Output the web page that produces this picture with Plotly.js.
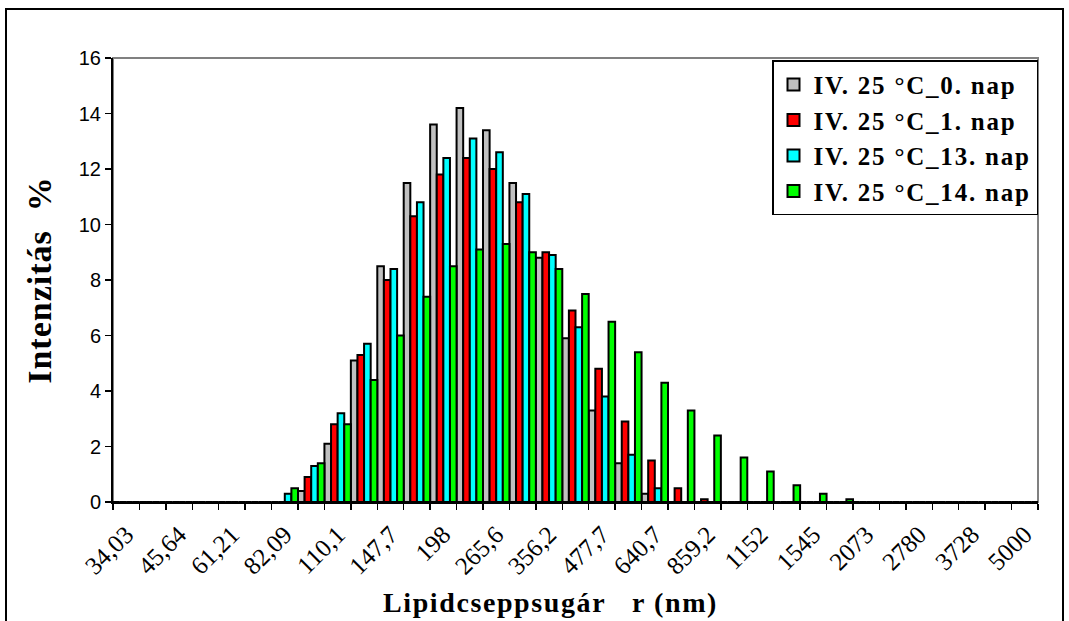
<!DOCTYPE html>
<html><head><meta charset="utf-8">
<script src="https://cdn.plot.ly/plotly-3.0.1.min.js"></script>
<style>
html,body{margin:0;padding:0;background:#fff;}
#chart{width:1069px;height:621px;}
#frame{position:absolute;left:5px;top:8px;width:1055px;height:700px;border:2px solid #000;pointer-events:none;}
.legendtext{letter-spacing:1.8px;}
.ytitle{letter-spacing:1px;}
.annotation-text{letter-spacing:1.6px;}
</style></head><body>
<div id="chart"></div><div id="frame"></div>
<script>
const categories = ["34,03","39,41","45,64","52,85","61,21","70,88","82,09","95,06","110,1","127,5","147,7","171","198","229,3","265,6","307,6","356,2","412,5","477,7","553,2","640,7","742","859,2","995","1152","1334","1545","1790","2073","2400","2780","3219","3728","4317","5000"];
const tickLabels = ["34,03","","45,64","","61,21","","82,09","","110,1","","147,7","","198","","265,6","","356,2","","477,7","","640,7","","859,2","","1152","","1545","","2073","","2780","","3728","","5000"];
const seriesNames = ["IV. 25 °C_0. nap","IV. 25 °C_1. nap","IV. 25 °C_13. nap","IV. 25 °C_14. nap"];
const nap0  = [0,0,0,0,0,0,0,0.4,2.1,5.1,8.5,11.5,13.6,14.2,13.4,11.5,8.8,5.9,3.3,1.4,0.3,0,0,0,0,0,0,0,0,0,0,0,0,0,0];
const nap1  = [0,0,0,0,0,0,0,0.9,2.8,5.3,8.0,10.3,11.8,12.4,12.0,10.8,9.0,6.9,4.8,2.9,1.5,0.5,0.1,0,0,0,0,0,0,0,0,0,0,0,0];
const nap13 = [0,0,0,0,0,0,0.3,1.3,3.2,5.7,8.4,10.8,12.4,13.1,12.6,11.1,8.9,6.3,3.8,1.7,0.5,0,0,0,0,0,0,0,0,0,0,0,0,0,0];
const nap14 = [0,0,0,0,0,0,0.5,1.4,2.8,4.4,6.0,7.4,8.5,9.1,9.3,9.0,8.4,7.5,6.5,5.4,4.3,3.3,2.4,1.6,1.1,0.6,0.3,0.1,0,0,0,0,0,0,0];
const colors = ["#C0C0C0","#FF0000","#00FFFF","#00FF00"];
const values = [nap0, nap1, nap13, nap14];
const serif = "Liberation Serif, Times New Roman, serif";
const sans = "Liberation Sans, Arial, sans-serif";

const traces = values.map((v,i)=>({
  type:"bar", x:categories, y:v, name:seriesNames[i],
  marker:{color:colors[i], line:{color:"#000", width:2}}
}));

const layout = {
  width:1069, height:621,
  paper_bgcolor:"#fff", plot_bgcolor:"#fff",
  margin:{l:113, r:31, t:58, b:119},
  barmode:"group", bargap:0, bargroupgap:0,
  showlegend:true,
  legend:{x:1, xanchor:"right", y:0.995, yanchor:"top", bordercolor:"#000", borderwidth:1.5, bgcolor:"#fff",
    font:{family:serif, size:25, color:"#000", weight:"bold"}, itemwidth:30, itemclick:false},
  font:{family:sans, color:"#000"},
  xaxis:{type:"category", tickmode:"array", tickvals:categories, ticktext:tickLabels, tickson:"boundaries",
    ticks:"outside", ticklen:6, tickwidth:1.5, tickcolor:"#000", tickangle:-45, ticklabelstandoff:6,
    tickfont:{family:serif, size:25, color:"#000"},
    showline:true, linecolor:"#000", linewidth:2, showgrid:false, zeroline:false, fixedrange:true},
  yaxis:{range:[0,16], dtick:2, ticks:"outside", ticklen:6, tickwidth:1.5, tickcolor:"#000",
    tickfont:{family:sans, size:20, color:"#000"},
    showline:true, linecolor:"#000", linewidth:2, showgrid:false, zeroline:false, fixedrange:true,
    title:{text:"Intenzitás\u00A0\u00A0%", font:{family:serif, size:34, color:"#000", weight:"bold"}, standoff:17}},
  shapes:[{type:"rect", xref:"paper", yref:"paper", x0:0, x1:1, y0:0, y1:1, line:{color:"#808080", width:2}, layer:"below"}],
  annotations:[{text:"Lipidcseppsugár\u00A0\u00A0\u00A0r (nm)", xref:"paper", yref:"paper", x:0.4735, y:-0.226, xanchor:"center", yanchor:"middle",
    showarrow:false, font:{family:serif, size:28, color:"#000", weight:"bold"}}]
};
Plotly.newPlot("chart", traces, layout, {displayModeBar:false, staticPlot:true});
</script>
</body></html>
